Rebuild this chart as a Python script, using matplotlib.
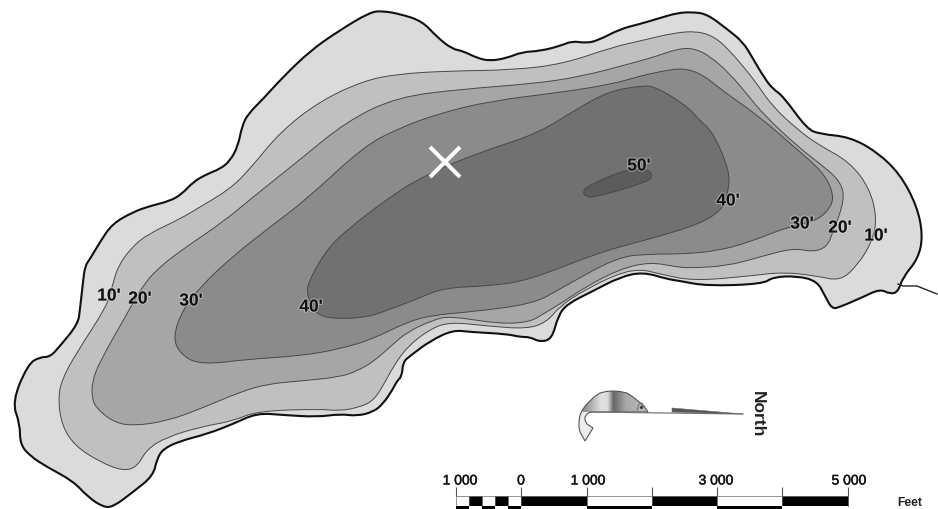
import matplotlib
matplotlib.use("Agg")
import matplotlib.pyplot as plt
import matplotlib.patheffects as pe
from matplotlib.colors import LinearSegmentedColormap
from matplotlib.patches import PathPatch, Polygon, Rectangle
from matplotlib.path import Path
import numpy as np

plt.rcParams["font.family"] = ["Liberation Sans", "DejaVu Sans"]

shore = [(12, 403), (28, 365), (40, 358), (50, 358), (60, 347), (78, 325), (80, 310), (83, 283),
         (85, 267), (90, 260), (100, 243), (112, 225), (133, 213), (150, 207), (170, 202), (182, 195),
         (193, 183), (207, 175), (220, 170), (230, 162), (238, 147), (242, 127), (248, 115), (263, 100),
         (283, 78), (310, 52), (337, 33), (370, 13), (383, 12), (400, 15), (422, 22), (437, 38),
         (452, 50), (463, 52), (477, 59), (490, 62), (507, 59), (522, 53), (540, 52), (560, 47),
         (572, 42), (585, 44), (597, 42), (620, 30), (640, 25), (660, 19), (677, 14), (692, 13),
         (707, 15), (727, 30), (743, 43), (752, 58), (765, 80), (773, 90), (783, 97), (807, 130),
         (820, 135), (850, 138), (877, 153), (900, 175), (917, 207), (923, 237), (918, 260), (903, 278),
         (898, 293), (890, 295), (880, 290), (863, 298), (840, 308), (832, 310), (825, 297), (817, 282),
         (797, 277), (773, 278), (763, 285), (707, 287), (680, 282), (667, 280), (643, 273), (620, 278),
         (593, 292), (567, 305), (558, 317), (552, 340), (540, 343), (530, 338), (520, 338), (507, 335),
         (470, 333), (453, 331), (430, 342), (410, 357), (403, 363), (402, 377), (397, 382), (393, 390),
         (383, 405), (373, 413), (357, 417), (340, 415), (317, 418), (283, 416), (257, 414), (233, 425),
         (207, 435), (180, 442), (163, 450), (157, 460), (153, 477), (133, 493), (113, 508), (103, 508),
         (88, 498), (73, 482), (47, 468), (30, 457), (20, 445), (20, 425)]
stream = [(898, 285), (903, 287), (917, 287), (937, 295)]
depth_10 = [(58, 400), (62, 427), (75, 447), (100, 463), (123, 472), (137, 468), (147, 450), (167, 438),
            (200, 428), (233, 422), (257, 412), (320, 410), (340, 412), (360, 408), (373, 402), (383, 387),
            (393, 368), (407, 348), (430, 330), (450, 323), (487, 327), (527, 330), (547, 323), (560, 307),
            (583, 292), (617, 275), (640, 270), (660, 275), (693, 282), (750, 277), (783, 273), (817, 277),
            (840, 282), (857, 267), (872, 243), (877, 220), (870, 190), (850, 163), (817, 145), (797, 130),
            (773, 108), (757, 85), (747, 72), (730, 52), (715, 38), (697, 32), (673, 34), (640, 42),
            (613, 48), (563, 65), (513, 71), (447, 72), (397, 75), (363, 82), (320, 102), (280, 133),
            (250, 170), (230, 190), (200, 208), (180, 220), (148, 235), (132, 248), (118, 267), (112, 288),
            (107, 307), (77, 353), (62, 380)]
depth_20 = [(92, 397), (95, 408), (113, 423), (133, 427), (167, 422), (200, 410), (240, 393), (267, 385),
            (300, 382), (340, 378), (357, 372), (373, 363), (390, 348), (407, 333), (433, 321), (450, 317),
            (500, 325), (530, 323), (543, 315), (560, 305), (587, 287), (620, 270), (650, 263), (677, 268),
            (690, 269), (727, 267), (760, 258), (793, 249), (813, 253), (827, 248), (833, 233), (845, 200),
            (840, 182), (823, 167), (797, 147), (763, 115), (747, 95), (730, 75), (710, 57), (693, 49),
            (677, 50), (657, 57), (640, 62), (580, 78), (530, 85), (463, 90), (397, 98), (347, 122),
            (297, 163), (253, 198), (223, 223), (183, 250), (157, 270), (142, 288), (128, 313), (100, 362),
            (92, 383)]
depth_30 = [(173, 338), (180, 355), (200, 366), (250, 360), (300, 357), (340, 350), (373, 340), (407, 323),
            (433, 316), (470, 313), (533, 305), (560, 290), (617, 258), (650, 255), (683, 255), (717, 252),
            (750, 243), (790, 227), (817, 222), (832, 207), (833, 193), (823, 173), (793, 147), (760, 118),
            (723, 92), (702, 75), (683, 69), (663, 72), (640, 77), (613, 85), (563, 93), (490, 102),
            (437, 115), (397, 130), (363, 148), (307, 200), (270, 228), (233, 257), (200, 288), (182, 312)]
depth_40 = [(308, 283), (307, 297), (317, 317), (340, 320), (367, 318), (383, 313), (417, 300), (443, 289),
            (487, 287), (527, 282), (600, 253), (650, 240), (700, 225), (723, 210), (728, 193), (730, 173),
            (713, 133), (698, 120), (690, 110), (673, 98), (653, 87), (640, 87), (610, 92), (580, 108),
            (537, 135), (480, 153), (423, 177), (387, 200), (348, 230), (327, 250)]
depth_50 = [(583, 193), (587, 187), (627, 170), (648, 170), (653, 177), (647, 183), (593, 199), (585, 197)]

contour_greys = ["#dbdbdb", "#c0c0c0", "#a6a6a6", "#8b8b8b", "#717171", "#5c5c5c"]

depth_labels = ["10'", "20'", "30'", "40'", "50'", "40'", "30'", "20'", "10'"]
label_x = [109, 140, 191, 311, 639, 728, 802, 840, 876]
label_y = [297, 300, 302, 308, 167, 202, 225, 229, 237]

scale_edges = [456, 469, 482, 495, 508, 521, 587, 652, 717, 782, 848]
scale_top_black = [0, 1, 0, 1, 0, 1, 0, 1, 0, 1]
scale_tick_x = [456, 521, 587, 652, 717, 782, 848]
scale_text_x = [460, 521, 588, 716, 849]
scale_text = ["1 000", "0", "1 000", "3 000", "5 000"]

arrow_dome = [(648, 413), (644, 407), (638, 402), (633, 398), (627, 394), (620, 392.5), (613, 392), (606, 392.5),
              (600, 394), (594, 398), (590, 402), (586, 406), (583, 410), (580, 416), (579, 422), (579, 428),
              (580, 433), (585, 442), (593, 429), (587, 425), (585, 421), (585, 418), (587, 415), (590, 413)]
arrow_wedge = [(672, 409), (743, 415), (672, 413)]
arrow_shaft_x = [590, 743]
arrow_shaft_y = [413, 415]
dome_stops = [(0.0, "#8a8a8a"), (0.28, "#e0e0e0"), (0.38, "#dcdcdc"), (0.47, "#666666"),
              (0.66, "#a8a8a8"), (1.0, "#bcbcbc")]


def smooth_path(points):
    # closed quadratic spline, traced points are the control points
    pts = np.array(points, dtype=float)
    mids = (pts + np.roll(pts, -1, axis=0)) / 2
    verts = [mids[-1]]
    codes = [Path.MOVETO]
    for p, m in zip(pts, mids):
        verts += [p, m]
        codes += [Path.CURVE3, Path.CURVE3]
    return Path(verts, codes)


def main():
    fig = plt.figure(figsize=(9.38, 5.10), dpi=100)
    ax = fig.add_axes([0, 0, 1, 1])

    levels = [depth_10, depth_20, depth_30, depth_40, depth_50]
    ax.add_patch(PathPatch(smooth_path(shore), fc=contour_greys[0], ec="none", zorder=1))
    for i, (level, grey) in enumerate(zip(levels, contour_greys[1:])):
        ax.add_patch(PathPatch(smooth_path(level), fc=grey, ec="#484848", lw=0.7, zorder=2 + i))
    ax.add_patch(PathPatch(smooth_path(shore), fc="none", ec="#111111", lw=1.5, zorder=8))
    sx, sy = zip(*stream)
    ax.plot(sx, sy, color="#222222", lw=1.0, zorder=8)

    # white X
    ax.plot([430, 460], [148, 178], color="white", lw=2.9, solid_capstyle="butt", zorder=9)
    ax.plot([430, 460], [178, 148], color="white", lw=2.9, solid_capstyle="butt", zorder=9)

    for text, x, y in zip(depth_labels, label_x, label_y):
        ax.text(x, y, text, fontsize=12.5, fontweight="bold", ha="center", va="center", color="#111111",
                zorder=10, path_effects=[pe.withStroke(linewidth=1.5, foreground=(0.85, 0.85, 0.85, 0.55))])

    # north arrow
    ax.add_patch(Polygon(arrow_dome, closed=True, fc="#ececec", ec="none", zorder=3))
    dome = Polygon(arrow_dome, closed=True, fc="none", ec="#555555", lw=0.8, zorder=5)
    ax.add_patch(dome)
    cmap = LinearSegmentedColormap.from_list("dome", dome_stops)
    grad = np.linspace(0, 1, 256).reshape(1, -1)
    img = ax.imshow(grad, cmap=cmap, extent=(583, 648, 413, 391), aspect="auto", zorder=4)
    img.set_clip_path(dome)
    ax.plot(arrow_shaft_x, arrow_shaft_y, color="#777777", lw=0.9, zorder=5)
    ax.add_patch(Polygon(arrow_wedge, closed=True, fc="#555555", ec="#666666", lw=0.4, zorder=5))
    ax.plot([637, 639, 642, 644], [411, 405, 404, 408], color="#555555", lw=0.5, zorder=6)
    ax.plot([641], [408], marker="o", ms=1.2, color="#333333", zorder=6)
    ax.text(757, 414, "North", rotation=-90, fontsize=12.5, fontweight="bold", ha="center", va="center",
            color="#222222")

    # scale bar
    for i, (x0, x1) in enumerate(zip(scale_edges[:-1], scale_edges[1:])):
        top = "black" if scale_top_black[i] else "white"
        bottom = "white" if scale_top_black[i] else "black"
        ax.add_patch(Rectangle((x0, 497), x1 - x0, 9.5, fc=top, ec="#444444", lw=0.4, zorder=5))
        ax.add_patch(Rectangle((x0, 506.5), x1 - x0, 9.5, fc=bottom, ec="none", zorder=5))
    ax.vlines(scale_tick_x, 488, 497, color="#555555", lw=0.8, zorder=5)
    for x, text in zip(scale_text_x, scale_text):
        ax.text(x, 481.5, text, fontsize=10, ha="center", va="center", color="#111111",
                path_effects=[pe.withStroke(linewidth=0.4, foreground="#333333")])
    ax.text(910, 503, "Feet", fontsize=8.7, fontweight="bold", ha="center", va="center", color="#222222")

    ax.set_xlim(0, 938)
    ax.set_ylim(510, 0)
    ax.axis("off")

    fig.savefig("out.png", dpi=100)


if __name__ == "__main__":
    main()
